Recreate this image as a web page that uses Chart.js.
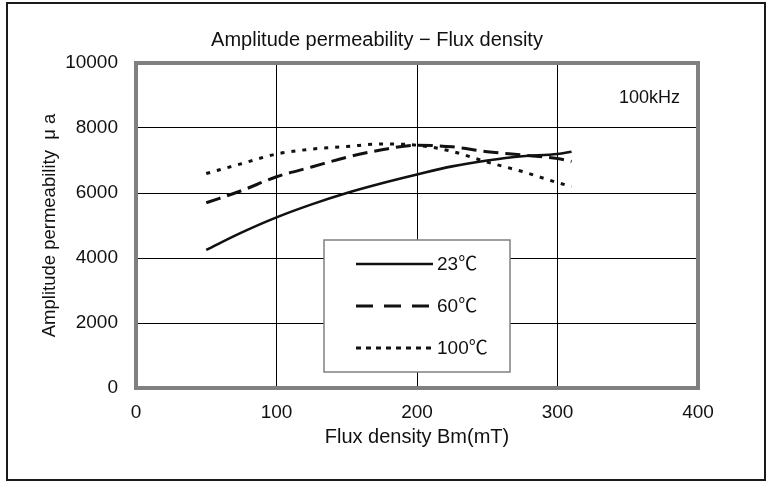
<!DOCTYPE html>
<html>
<head>
<meta charset="utf-8">
<script src="https://cdn.jsdelivr.net/npm/chart.js@4/dist/chart.umd.min.js"></script>
<style>
  html, body { margin: 0; padding: 0; background: #fff; }
  #wrap { width: 769px; height: 482px; position: relative; }
</style>
</head>
<body>
<div id="wrap"><canvas id="c" width="769" height="482"></canvas></div>
<script>
// Flux density Bm (mT) sample points
const bm = [50, 75, 100, 125, 150, 175, 200, 225, 250, 275, 300, 310];
// Amplitude permeability μa at each temperature
const mu23 = [4250, 4780, 5250, 5650, 6000, 6300, 6570, 6820, 7000, 7130, 7200, 7270];
const mu60 = [5700, 6070, 6500, 6800, 7100, 7330, 7470, 7420, 7270, 7170, 7060, 6970];
const mu100 = [6600, 6900, 7200, 7350, 7430, 7510, 7470, 7280, 6950, 6660, 6320, 6200];
const seriesNames = ['23℃', '60℃', '100℃'];
// Axis tick labels
const xTicks = [0, 100, 200, 300, 400];
const yTicks = [0, 2000, 4000, 6000, 8000, 10000];

const FONT = '"Liberation Sans", Arial, "Noto Sans CJK JP", sans-serif';
const INK = '#111';

function pts(ys) { return bm.map((x, i) => ({ x: x, y: ys[i] })); }

const datasets = [
  { label: seriesNames[0], data: pts(mu23), borderColor: INK, borderWidth: 2.6, borderDash: [], legendDash: [] },
  { label: seriesNames[1], data: pts(mu60), borderColor: INK, borderWidth: 3, borderDash: [15, 7], legendDash: [17, 11] },
  { label: seriesNames[2], data: pts(mu100), borderColor: INK, borderWidth: 3, borderDash: [4, 7], legendDash: [5, 5] }
].map(d => Object.assign(d, { pointRadius: 0, fill: false, cubicInterpolationMode: 'monotone' }));

// Outer frame, plot frame, headings and the boxed legend
const decor = {
  id: 'decor',
  beforeDraw(chart) {
    const ctx = chart.ctx;
    ctx.save();
    ctx.fillStyle = '#fff';
    ctx.fillRect(0, 0, chart.width, chart.height);
    ctx.strokeStyle = '#1a1a1a';
    ctx.lineWidth = 2;
    ctx.strokeRect(7, 3, 758, 477);
    ctx.restore();
  },
  beforeDatasetsDraw(chart) {
    const ctx = chart.ctx, a = chart.chartArea;
    ctx.save();
    ctx.strokeStyle = '#808080';
    ctx.lineWidth = 4;
    ctx.strokeRect(a.left, a.top, a.right - a.left, a.bottom - a.top);
    ctx.restore();
  },
  afterDraw(chart) {
    const ctx = chart.ctx;
    ctx.save();
    ctx.fillStyle = '#111';
    ctx.textBaseline = 'middle';
    ctx.font = '20px ' + FONT;
    ctx.textAlign = 'center';
    ctx.fillText('Amplitude permeability − Flux density', 377, 40);
    ctx.font = '18px ' + FONT;
    ctx.textAlign = 'left';
    ctx.fillText('100kHz', 619, 98);

    // legend box
    const bx = 324, by = 240, bw = 186, bh = 132;
    ctx.fillStyle = '#fff';
    ctx.fillRect(bx, by, bw, bh);
    ctx.strokeStyle = '#808080';
    ctx.lineWidth = 1.5;
    ctx.strokeRect(bx, by, bw, bh);
    const rows = [264, 306, 348];
    chart.data.datasets.forEach((d, i) => {
      const y = rows[i];
      ctx.beginPath();
      ctx.setLineDash(d.legendDash);
      ctx.strokeStyle = d.borderColor;
      ctx.lineWidth = d.borderWidth;
      ctx.moveTo(356, y);
      ctx.lineTo(433, y);
      ctx.stroke();
      ctx.setLineDash([]);
      ctx.fillStyle = '#111';
      ctx.font = '19px ' + FONT;
      ctx.textAlign = 'left';
      ctx.fillText(d.label, 437, y + 1);
    });
    ctx.restore();
  }
};

new Chart(document.getElementById('c'), {
  type: 'line',
  data: { datasets: datasets },
  options: {
    responsive: false,
    animation: false,
    events: [],
    layout: { padding: { top: 63, right: 71, left: 0, bottom: 0 } },
    plugins: { legend: { display: false }, tooltip: { enabled: false } },
    scales: {
      x: {
        type: 'linear', min: xTicks[0], max: xTicks[xTicks.length - 1],
        afterFit(s) { s.height = 94; },
        afterBuildTicks(s) { s.ticks = xTicks.map(v => ({ value: v })); },
        grid: { color: '#000', lineWidth: 1, drawTicks: false },
        border: { display: false },
        ticks: { color: '#111', font: { family: FONT, size: 19 }, padding: 13, maxRotation: 0, autoSkip: false,
                 callback: v => String(v) },
        title: { display: true, text: 'Flux density Bm(mT)', color: '#111', font: { family: FONT, size: 20 }, padding: { top: 0, bottom: 33 } }
      },
      y: {
        type: 'linear', min: yTicks[0], max: yTicks[yTicks.length - 1],
        afterFit(s) { s.width = 136; },
        afterBuildTicks(s) { s.ticks = yTicks.map(v => ({ value: v })); },
        grid: { color: '#000', lineWidth: 1, drawTicks: false },
        border: { display: false },
        ticks: { color: '#111', font: { family: FONT, size: 19 }, padding: 18, autoSkip: false,
                 callback: v => String(v) },
        title: { display: true, text: 'Amplitude permeability  μ a', color: '#111', font: { family: FONT, size: 18.5 }, padding: { top: 39, bottom: 0 } }
      }
    }
  },
  plugins: [decor]
});
</script>
</body>
</html>
